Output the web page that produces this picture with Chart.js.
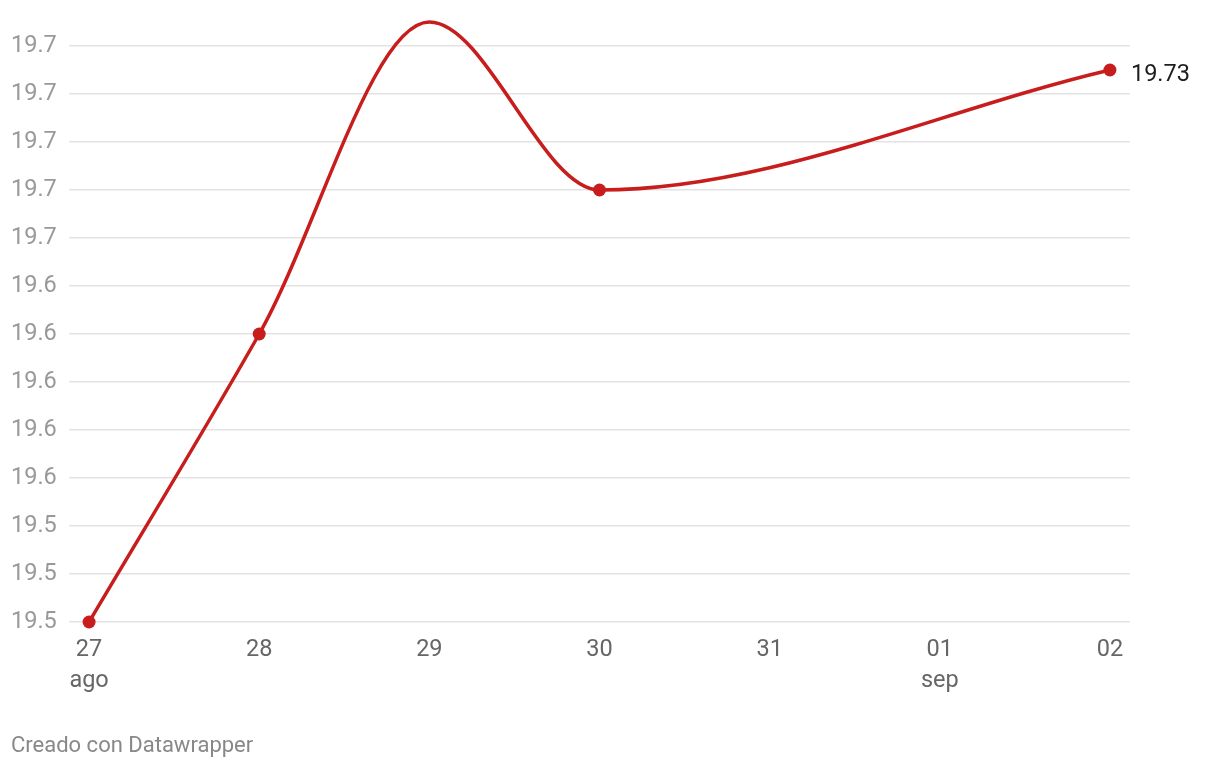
<!DOCTYPE html>
<html>
<head>
<meta charset="utf-8">
<script src="https://cdn.jsdelivr.net/npm/chart.js@4/dist/chart.umd.min.js"></script>
<style>
  html, body { margin: 0; padding: 0; background: #fff; }
  #wrap { position: relative; width: 1220px; height: 768px; }
  #credit { position: absolute; left: 11px; top: 732px; font: 22px Roboto, sans-serif; color: #888; }
</style>
</head>
<body>
<div id="wrap">
  <canvas id="chart" width="1220" height="768"></canvas>
  <div id="credit">Creado con Datawrapper</div>
</div>
<script>
(function(){
  // days shown on the x axis (index 0..6)
  const dayLabels = ['27', '28', '29', '30', '31', '01', '02'];
  const monthLabels = ['ago', '', '', '', '', 'sep', ''];
  // data points: day index and value
  const pointDays = [0, 1, 2, 3, 6];
  const values = [19.50, 19.62, 19.75, 19.68, 19.73];
  const yTicks = [19.50, 19.52, 19.54, 19.56, 19.58, 19.60, 19.62, 19.64, 19.66, 19.68, 19.70, 19.72, 19.74];
  const yTickLabels = ['19.5', '19.5', '19.5', '19.6', '19.6', '19.6', '19.6', '19.6', '19.7', '19.7', '19.7', '19.7', '19.7'];

  const red = '#c71e1d';

  const lastLabel = {
    id: 'lastLabel',
    afterDatasetsDraw(chart) {
      const meta = chart.getDatasetMeta(0);
      const pt = meta.data[meta.data.length - 1];
      const c = chart.ctx;
      c.save();
      c.font = '23.5px Roboto';
      c.fillStyle = '#1d1d1d';
      c.textAlign = 'left';
      c.textBaseline = 'middle';
      c.fillText(values[values.length - 1].toFixed(2), pt.x + 21, pt.y + 5);
      c.restore();
    }
  };

  const ctx = document.getElementById('chart').getContext('2d');
  new Chart(ctx, {
    type: 'line',
    data: {
      datasets: [{
        data: pointDays.map((d, i) => ({ x: d, y: values[i] })),
        borderColor: red,
        backgroundColor: red,
        borderWidth: 3.5,
        pointRadius: 6.5,
        pointBorderWidth: 0,
        pointBackgroundColor: red,
        cubicInterpolationMode: 'monotone',
        clip: false
      }]
    },
    options: {
      responsive: false,
      animation: false,
      layout: { padding: { top: 46, left: 11, right: 90, bottom: 0 } },
      plugins: { legend: { display: false }, tooltip: { enabled: false } },
      scales: {
        x: {
          type: 'linear',
          min: -0.118,
          max: 6.118,
          afterBuildTicks: s => { s.ticks = dayLabels.map((_, i) => ({ value: i })); },
          afterFit: s => { s.height = 146; },
          grid: { display: false, drawTicks: false },
          border: { display: false },
          ticks: {
            padding: 13,
            color: '#666',
            font: { family: 'Roboto', size: 23.5, lineHeight: 1.32 },
            maxRotation: 0,
            autoSkip: false,
            callback: v => monthLabels[v] ? [dayLabels[v], monthLabels[v]] : dayLabels[v]
          }
        },
        y: {
          min: 19.50,
          max: 19.74,
          afterBuildTicks: s => { s.ticks = yTicks.map(v => ({ value: v })); },
          afterFit: s => { s.width = 58; },
          grid: { color: '#e3e3e3', lineWidth: 1.5, drawTicks: false },
          border: { display: false },
          ticks: {
            crossAlign: 'far',
            color: '#999',
            font: { family: 'Roboto', size: 23.5 },
            callback: (v, i) => yTickLabels[i]
          }
        }
      }
    },
    plugins: [lastLabel]
  });
})();
</script>
</body>
</html>
